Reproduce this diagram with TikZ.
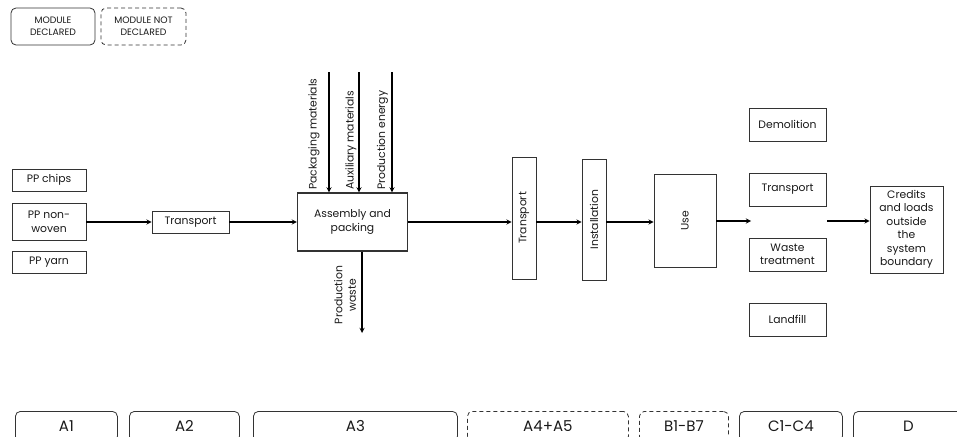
\documentclass[tikz,border=0pt]{standalone}
\usepackage{fontspec}
\setmainfont{Poppins}
\usetikzlibrary{arrows,calc}

\begin{document}
\begin{tikzpicture}[x=1pt,y=-1pt,>=stealth,
  box/.style={draw=lca_line,line width=0.8pt,text=lca_text,align=center,inner sep=0pt,
              font=\fontsize{10.8}{13.5}\selectfont},
  vbox/.style={box,rotate=90},
  flow/.style={line width=1.3pt,->},
  flowlabel/.style={text=lca_text,rotate=90,inner sep=1pt,align=center,
              font=\fontsize{10.8}{13.5}\selectfont},
  module/.style={draw=lca_line,line width=0.8pt,rounded corners=5pt,text=lca_text,
              align=center,inner sep=0pt},
  nomodule/.style={module,dash pattern=on 4pt off 3pt}]
% ------------------------------------------------ lca theme colors
\definecolor{lca_line}{RGB}{51,51,51}  %#333333
\definecolor{lca_text}{RGB}{25,25,25}  %#191919

\useasboundingbox (0,0) rectangle (957,436);
\clip (0,0) rectangle (957,436);

% ------------------------------------------------ legend
\node[module,minimum width=84,minimum height=37,font=\fontsize{9.3}{11.5}\selectfont] (declared) at (53,26.5) {MODULE\\DECLARED};
\node[nomodule,minimum width=85,minimum height=37,font=\fontsize{9.3}{11.5}\selectfont] (notdeclared) at (143.5,26.5) {MODULE NOT\\DECLARED};

% ------------------------------------------------ A1 - A3
\node[box,minimum width=74,minimum height=22] (chips) at (49,180) {PP chips};
\node[box,minimum width=74,minimum height=37] (nonwoven) at (49,222) {PP non-\\woven};
\node[box,minimum width=74,minimum height=22] (yarn) at (49,262) {PP yarn};

\node[box,minimum width=77,minimum height=22] (trans1) at (190.5,222) {Transport};
\node[box,minimum width=110,minimum height=58,line width=1.1pt] (asm) at (352.5,222) {Assembly and\\packing};

\draw[flow] (nonwoven.east) -- (trans1.west |- nonwoven.east);
\draw[flow] (trans1.east) -- (asm.west |- trans1.east);

\coordinate (pack) at (329,72);
\coordinate (aux) at (359,72);
\coordinate (energy) at (392,72);
\coordinate (waste) at (362,333);
\draw[flow] (pack) -- (pack |- asm.north);
\draw[flow] (aux) -- (aux |- asm.north);
\draw[flow] (energy) -- (energy |- asm.north);
\draw[flow] (waste |- asm.south) -- (waste);
\node[flowlabel,anchor=west] (packlbl) at (314,191) {Packaging materials};
\node[flowlabel,anchor=west] (auxlbl) at (351,191) {Auxiliary materials};
\node[flowlabel,anchor=west] (energylbl) at (382.5,191) {Production energy};
\node[flowlabel] (wastelbl) at (345,295) {Production\\waste};

% ------------------------------------------------ A4 - A5, B
\node[vbox,minimum width=122,minimum height=24] (trans2) at (524,218) {Transport};
\node[vbox,minimum width=121,minimum height=24] (inst) at (594,219.5) {Installation};
\node[vbox,minimum width=93,minimum height=62] (use) at (685,220.5) {Use};

\draw[flow] (asm.east) -- (trans2.north |- asm.east);
\draw[flow] (trans2.south |- asm.east) -- (inst.north |- asm.east);
\draw[flow] (inst.south |- asm.east) -- (use.north |- asm.east);

% ------------------------------------------------ C, D
\node[box,minimum width=77,minimum height=33] (demol) at (787.5,124.5) {Demolition};
\node[box,minimum width=77,minimum height=33] (trans3) at (787.5,189.5) {Transport};
\node[box,minimum width=77,minimum height=33] (wastetr) at (787.5,254.5) {Waste\\treatment};
\node[box,minimum width=77,minimum height=33] (landfill) at (787.5,319.5) {Landfill};
\node[box,minimum width=73,minimum height=87] (credits) at (906.5,229.5) {Credits\\and loads\\outside\\the\\system\\boundary};

\coordinate (cin) at (751,221);
\coordinate (cout) at (827,221);
\draw[flow] (use.south |- cin) -- (cin);
\draw[flow] (cout) -- (credits.west |- cout);

% ------------------------------------------------ modules
\node[module,anchor=north west,minimum width=102,minimum height=30,font=\fontsize{15}{18}\selectfont] (a1) at (15,411) {A1};
\node[module,anchor=north west,minimum width=110,minimum height=30,font=\fontsize{15}{18}\selectfont] (a2) at (129,411) {A2};
\node[module,anchor=north west,minimum width=204,minimum height=30,font=\fontsize{15}{18}\selectfont] (a3) at (253,411) {A3};
\node[nomodule,anchor=north west,minimum width=161,minimum height=30,font=\fontsize{15}{18}\selectfont] (a45) at (467,411) {A4+A5};
\node[nomodule,anchor=north west,minimum width=89,minimum height=30,font=\fontsize{15}{18}\selectfont] (b17) at (639,411) {B1-B7};
\node[module,anchor=north west,minimum width=103,minimum height=30,font=\fontsize{15}{18}\selectfont] (c14) at (739,411) {C1-C4};
\node[module,anchor=north west,minimum width=110,minimum height=30,font=\fontsize{15}{18}\selectfont] (d) at (853,411) {D};

\end{tikzpicture}
\end{document}
